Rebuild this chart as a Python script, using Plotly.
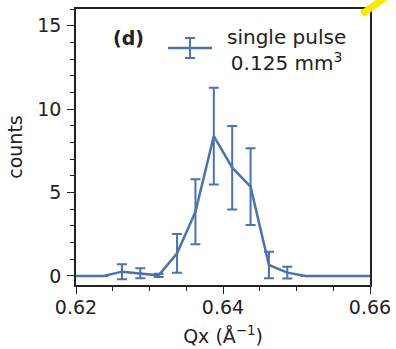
import plotly.graph_objects as go

# Data
qx = [0.61875, 0.62125, 0.62375, 0.62625, 0.62875, 0.63125, 0.63375, 0.63625,
      0.63875, 0.64125, 0.64375, 0.64625, 0.64875, 0.65125, 0.65375, 0.65625,
      0.65875, 0.66125]
counts = [0, 0, 0, 0.26, 0.16, 0.04, 1.36, 3.85, 8.38, 6.49, 5.35, 0.66, 0.20,
          0, 0, 0, 0, 0]
errors = [0, 0, 0, 0.45, 0.30, 0.10, 1.16, 1.95, 2.90, 2.50, 2.30, 0.79, 0.35,
          0, 0, 0, 0, 0]
x_ticks = [0.62, 0.64, 0.66]
x_ticklabels = ["0.62", "0.64", "0.66"]
y_ticks = [0, 5, 10, 15]
legend_label = "single pulse<br>0.125 mm<sup>3</sup>"
panel_label = "(d)"

BLUE = "#4c72b0"
FONT = "DejaVu Sans"
FS = 19

W, H = 396, 349
L, R, T, B = 76, 26, 9, 64
pw, ph = W - L - R, H - T - B


def px(x):
    return (x - L) / pw


def py(y):
    return (H - B - y) / ph


fig = go.Figure()
fig.add_trace(go.Scatter(
    x=qx, y=counts, mode="lines",
    line=dict(color=BLUE, width=2.5),
    error_y=dict(type="data", array=errors, visible=True, color=BLUE,
                 thickness=2, width=5),
    showlegend=False,
))

shapes = []
# legend glyph (error bar symbol)
shapes.append(dict(type="line", xref="paper", yref="paper",
                   x0=px(168), x1=px(212), y0=py(48), y1=py(48),
                   line=dict(color=BLUE, width=2.5)))
shapes.append(dict(type="line", xref="paper", yref="paper",
                   x0=px(190), x1=px(190), y0=py(38), y1=py(58),
                   line=dict(color=BLUE, width=2)))
for yy in (38, 58):
    shapes.append(dict(type="line", xref="paper", yref="paper",
                       x0=px(185), x1=px(195), y0=py(yy), y1=py(yy),
                       line=dict(color=BLUE, width=2)))
# yellow stroke in the top-right corner of the picture
shapes.append(dict(type="line", xref="paper", yref="paper",
                   x0=px(362), x1=px(386), y0=py(14), y1=py(-3),
                   line=dict(color="#f7ea00", width=7)))

annotations = [
    dict(text=legend_label, xref="paper", yref="paper", x=px(286), y=py(50),
         xanchor="center", yanchor="middle", showarrow=False, align="center",
         font=dict(family=FONT, size=20, color="#222")),
    dict(text="<b>" + panel_label + "</b>", xref="paper", yref="paper",
         x=px(128), y=py(38), xanchor="center", yanchor="middle",
         showarrow=False, font=dict(family=FONT, size=FS, color="#222")),
]

axis_common = dict(
    showline=True, linecolor="#222", linewidth=1.5, mirror=True,
    ticks="outside", ticklen=7, tickwidth=1.3, tickcolor="#222",
    showgrid=False, zeroline=False,
    tickfont=dict(family=FONT, size=FS, color="#222"),
)

fig.update_layout(
    width=W, height=H,
    margin=dict(l=L, r=R, t=T, b=B, autoexpand=False),
    paper_bgcolor="white", plot_bgcolor="white",
    shapes=shapes, annotations=annotations,
    xaxis=dict(
        range=[0.62, 0.66], tickvals=x_ticks, ticktext=x_ticklabels,
        ticklabelstandoff=-3,
        minor=dict(dtick=0.005, ticks="outside", ticklen=4, tickwidth=1.2,
                   tickcolor="#222"),
        title=dict(text="Qx (Å<sup>−1</sup>)", standoff=13,
                   font=dict(family=FONT, size=FS, color="#222")),
        **axis_common,
    ),
    yaxis=dict(
        range=[-0.54, 16.0], tickvals=y_ticks,
        ticklabelstandoff=2,
        minor=dict(dtick=1, ticks="outside", ticklen=4, tickwidth=1.2,
                   tickcolor="#222"),
        title=dict(text="counts", standoff=10,
                   font=dict(family=FONT, size=FS, color="#222")),
        **axis_common,
    ),
)

fig.write_html(
    "out.html",
    config={"displayModeBar": False},
    post_script="document.body.style.margin='0px';document.body.style.padding='0px';",
)
